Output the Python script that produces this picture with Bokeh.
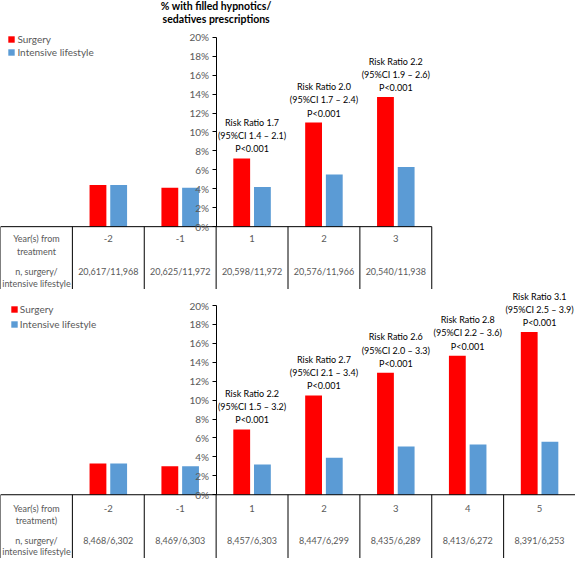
from bokeh.plotting import figure
from bokeh.models import Range1d, FixedTicker, PrintfTickFormatter, Legend, LegendItem, ColumnDataSource
from bokeh.layouts import column
from bokeh.embed import file_html
from bokeh.resources import INLINE
from bokeh.core.properties import value
import numpy as np

# ---------------- data ----------------
title_lines = ["% with filled hypnotics/", "sedatives prescriptions"]
series_names = ["Surgery", "Intensive lifestyle"]
tick_values = [0, 2, 4, 6, 8, 10, 12, 14, 16, 18, 20]

top_years = ["-2", "-1", "1", "2", "3"]
top_surgery = [4.4, 4.1, 7.2, 11.0, 13.7]
top_lifestyle = [4.4, 4.1, 4.2, 5.5, 6.3]
top_n = ["20,617/11,968", "20,625/11,972", "20,598/11,972", "20,576/11,966", "20,540/11,938"]
top_rr = ["", "",
          "Risk Ratio 1.7\n(95%CI 1.4 \u2013 2.1)\nP<0.001",
          "Risk Ratio 2.0\n(95%CI 1.7 \u2013 2.4)\nP<0.001",
          "Risk Ratio 2.2\n(95%CI 1.9 \u2013 2.6)\nP<0.001"]
top_row_labels = ["Year(s) from\ntreatment", "n, surgery/\nintensive lifestyle"]

bot_years = ["-2", "-1", "1", "2", "3", "4", "5"]
bot_surgery = [3.3, 3.0, 6.9, 10.5, 12.9, 14.7, 17.2]
bot_lifestyle = [3.3, 3.0, 3.2, 3.9, 5.1, 5.3, 5.6]
bot_n = ["8,468/6,302", "8,469/6,303", "8,457/6,303", "8,447/6,299",
         "8,435/6,289", "8,413/6,272", "8,391/6,253"]
bot_rr = ["", "",
          "Risk Ratio 2.2\n(95%CI 1.5 \u2013 3.2)\nP<0.001",
          "Risk Ratio 2.7\n(95%CI 2.1 \u2013 3.4)\nP<0.001",
          "Risk Ratio 2.6\n(95%CI 2.0 \u2013 3.3)\nP<0.001",
          "Risk Ratio 2.8\n(95%CI 2.2 \u2013 3.6)\nP<0.001",
          "Risk Ratio 3.1\n(95%CI 2.5 \u2013 3.9)\nP<0.001"]
bot_row_labels = ["Year(s) from\ntreatment)", "n, surgery/\nintensive lifestyle"]

# ---------------- style / layout ----------------
FONT = "Lato"
RED = "#FF0000"
BLUE = "#5B9BD5"
GREY = "#595959"
W = 575
S = W / 583.0          # scale from reference pixels
PX_PER_PCT = 9.6       # reference pixels per 1 %


def make_panel(years, surg, life, nlist, rr, row_labels, top_px, bot_px, zero_px,
               row_px, legend_px, legend_spacing, title=None):
    h = int(round((bot_px - top_px) * S))
    yd = lambda py: (zero_px - py) / PX_PER_PCT
    p = figure(width=W, height=h, x_range=Range1d(0, 8),
               y_range=Range1d(yd(bot_px), yd(top_px)),
               output_backend="svg", toolbar_location=None,
               x_axis_location=None, min_border=0, outline_line_color=None)
    p.grid.visible = False
    ax = p.yaxis[0]
    ax.fixed_location = 3
    ax.bounds = (0, 20)
    ax.ticker = FixedTicker(ticks=tick_values)
    ax.formatter = PrintfTickFormatter(format="%d%%")
    ax.minor_tick_line_color = None
    ax.major_tick_in = 0
    ax.major_tick_out = 4
    ax.major_label_standoff = 3
    ax.major_label_text_font = FONT
    ax.major_label_text_font_size = "10px"
    ax.major_label_text_color = GREY
    ax.axis_line_color = "#000000"
    ax.major_tick_line_color = "#000000"

    n = len(years)
    centers = np.arange(n) + 1.5
    src = ColumnDataSource(dict(xs=centers - 0.144, xl=centers + 0.144, xc=centers,
                                s=surg, l=life, yr=years, n=nlist, rr=rr))
    r1 = p.vbar(x="xs", top="s", bottom=0, width=0.234, fill_color=RED,
                line_color=None, source=src)
    r2 = p.vbar(x="xl", top="l", bottom=0, width=0.234, fill_color=BLUE,
                line_color=None, source=src)

    # risk ratio annotations
    p.text(x="xc", y="s", text="rr", source=src, text_align="center",
           text_baseline="bottom", y_offset=-4, text_font=value(FONT),
           text_font_size="9px", text_color="#000000", text_line_height=1.2)

    # table grid
    ncols = n + 1
    yb = yd(bot_px)
    p.segment(x0=[0], y0=[0], x1=[ncols], y1=[0], line_color="#000000", line_width=1)
    vx = list(range(ncols + 1))
    p.segment(x0=vx, y0=[0] * len(vx), x1=vx, y1=[yb] * len(vx),
              line_color="#000000", line_width=1)

    # table texts
    y_year, y_year2, y_n, y_n2 = [yd(v) for v in row_px]
    p.text(x="xc", y=y_year, text="yr", source=src, text_align="center",
           text_baseline="middle", text_font=value(FONT), text_font_size="9.5px",
           text_color=GREY)
    p.text(x="xc", y=y_n, text="n", source=src, text_align="center",
           text_baseline="middle", text_font=value(FONT), text_font_size="9px",
           text_color=GREY)
    lbl_lines = [ln for lbl in row_labels for ln in lbl.split("\n")]
    p.text(x=[0.5] * len(lbl_lines), y=[y_year, y_year2, y_n, y_n2], text=lbl_lines,
           text_align="center", text_baseline="middle", text_font=value(FONT),
           text_font_size="9px", text_color=GREY)

    if title is not None:
        p.text(x=[3, 3], y=[yd(6), yd(18.3)], text=title, text_align="center",
               text_baseline="middle", text_font=value(FONT), text_font_size="10.5px",
               text_font_style="bold", text_color="#000000")

    lx, lbot = legend_px
    legend = Legend(items=[LegendItem(label=series_names[0], renderers=[r1]),
                           LegendItem(label=series_names[1], renderers=[r2])],
                    location=(lx * S, (bot_px - lbot) * S),
                    glyph_width=8, glyph_height=8, label_height=10, label_width=10,
                    label_standoff=2, spacing=legend_spacing, padding=0, margin=0,
                    border_line_alpha=0, background_fill_alpha=0,
                    label_text_font=FONT, label_text_font_size="10px",
                    label_text_color=GREY, label_text_baseline="middle")
    p.add_layout(legend)
    return p


p_top = make_panel(top_years, top_surgery, top_lifestyle, top_n, top_rr, top_row_labels,
                   top_px=0, bot_px=293, zero_px=229.3,
                   row_px=(241.7, 254.3, 274.5, 286.7),
                   legend_px=(7.5, 59), legend_spacing=1, title=title_lines)
p_bot = make_panel(bot_years, bot_surgery, bot_lifestyle, bot_n, bot_rr, bot_row_labels,
                   top_px=293, bot_px=566, zero_px=501.3,
                   row_px=(515, 527.3, 547.7, 558.5),
                   legend_px=(10, 334.5), legend_spacing=3)

layout = column(p_top, p_bot, spacing=0)
open("out.html", "w").write(file_html(layout, INLINE))
